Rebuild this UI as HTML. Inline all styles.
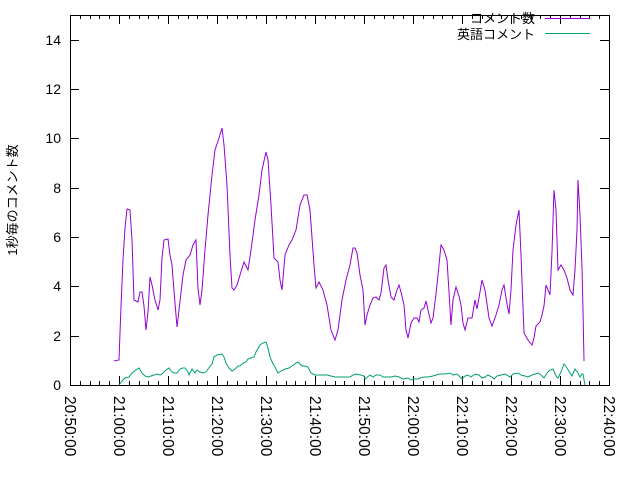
<!DOCTYPE html><html><head><meta charset="utf-8"><style>body{margin:0;background:#fff}svg{display:block}text{font-family:"Liberation Sans","Noto Sans CJK JP",sans-serif;fill:#000}</style></head><body>
<svg width="640" height="480" viewBox="0 0 640 480">
<g stroke="#000" stroke-width="1" fill="none">
<rect x="70.5" y="15.5" width="539" height="370"/>
<path d="M70 385.5h9M70 336.5h9M70 286.5h9M70 237.5h9M70 188.5h9M70 138.5h9M70 89.5h9M70 40.5h9M609 336.5h-9M609 286.5h-9M609 237.5h-9M609 188.5h-9M609 138.5h-9M609 89.5h-9M609 40.5h-9"/>
</g>
<g stroke="#000" stroke-width="1" id="ticks"></g>
<g font-size="14" text-anchor="end">
<text x="61" y="390">0</text><text x="61" y="341">2</text><text x="61" y="291">4</text><text x="61" y="242">6</text><text x="61" y="193">8</text><text x="61" y="143">10</text><text x="61" y="94">12</text><text x="61" y="45">14</text>
</g>
<g font-size="15.5" id="xl"></g>
<text font-size="13" transform="translate(17,200) rotate(-90)" text-anchor="middle">1秒毎のコメント数</text>
<text font-size="13" x="535" y="23" text-anchor="end">コメント数</text>
<text font-size="13" x="535" y="39" text-anchor="end">英語コメント</text>
<path d="M545 18.5h45" stroke="#9400d3"/><path d="M545 33.5h45" stroke="#009e73"/>
<polyline fill="none" stroke="#9400d3" stroke-width="1" points="114,361 119,360 121,306 123,260 125,228 127,209 130,210 132,240 134,300 138,302 140,292 142,292 144,306 146,330 148,312 150,277 152,285 155,300 158,310 160,300 162,258 164,240 168,239 170,255 172,265 174,291 177,327 179,310 183,275 186,260 190,255 193,245 196,240 198,288 200,305 202,290 205,250 208,215 212,175 215,150 219,138 222,128 224,145 227,185 230,255 232,288 234,290 237,285 240,275 244,262 246,266 248,270 251,250 255,220 259,195 262,170 266,152 268,160 271,205 274,258 278,262 280,280 282,290 285,255 289,245 292,240 296,230 300,205 304,195 307,195 310,210 314,265 316,288 319,282 323,290 327,305 331,330 335,340 338,330 342,300 346,280 350,265 353,248 355,248 357,253 360,275 363,290 365,325 367,315 370,305 373,298 376,297 379,300 381,293 384,268 386,265 388,280 391,297 394,300 397,290 399,285 401,292 404,305 406,330 408,338 411,323 414,318 417,318 419,322 421,310 424,308 426,301 428,310 431,323 433,318 436,294 438,275 441,245 444,250 447,260 449,292 451,325 453,300 456,287 459,296 461,305 463,323 465,330 468,318 472,318 475,300 477,309 480,292 482,280 485,290 489,318 492,326 496,315 499,305 502,290 504,285 507,304 509,314 511,290 513,250 516,225 519,210 521,255 524,333 528,340 532,345 534,338 536,326 540,322 542,315 544,306 546,285 548,290 550,295 552,252 554,190 556,210 558,270 561,265 564,270 567,278 570,290 573,295 575,270 577,230 578,180 580,215 582,268 583,310 584,361"/>
<polyline fill="none" stroke="#009e73" stroke-width="1" points="119,385 122,381 125,378 129,377 132,373 136,370 139,368 142,373 145,376 148,377 151,376 154,375 157,374 160,375 163,373 166,370 169,368 171,371 174,373 177,373 180,369 183,368 185,368 188,372 189,375 192,369 195,373 197,370 200,372 203,373 206,372 208,369 212,364 214,357 217,355 222,354 224,357 226,363 229,368 232,371 235,369 238,366 240,366 243,363 246,362 248,359 251,358 254,357 256,352 260,345 263,343 266,342 268,348 270,357 273,364 275,367 278,373 281,371 285,369 289,368 292,366 296,363 298,362 300,364 302,366 305,366 308,367 311,373 315,375 319,375 323,375 327,375 331,376 335,377 339,377 343,377 347,377 350,377 353,375 356,374 361,375 364,376 365,379 370,375 373,377 376,375 380,375 383,377 387,377 391,377 395,376 399,377 403,379 408,378 411,380 414,379 418,379 420,378 424,377 428,377 433,376 436,375 440,374 446,374 450,373 453,375 457,374 460,377 462,379 465,376 468,375 471,377 475,374 479,375 482,378 485,377 488,375 492,377 494,379 497,376 501,375 505,374 510,377 513,374 518,373 521,375 525,376 528,377 532,375 535,374 538,373 541,375 544,378 547,373 550,370 553,369 556,376 558,378 561,372 564,364 567,368 570,373 572,376 575,369 578,373 580,377 582,374 583,374 585,385"/>
<script>
var t=document.getElementById('ticks'),xl=document.getElementById('xl'),ns='http://www.w3.org/2000/svg';
var labs=['20:50:00','21:00:00','21:10:00','21:20:00','21:30:00','21:40:00','21:50:00','22:00:00','22:10:00','22:20:00','22:30:00','22:40:00'];
for(var i=0;i<=55;i++){var x=Math.round(70+i*9.8)+0.5,L=(i%5==0)?9:4;
var p=document.createElementNS(ns,'path');p.setAttribute('d','M'+x+' 385v-'+L+'M'+x+' 15v'+L);t.appendChild(p);}
for(var j=0;j<12;j++){var x=70+j*49;var e=document.createElementNS(ns,'text');e.setAttribute('transform','translate('+(x-5)+',396) rotate(90)');e.textContent=labs[j];xl.appendChild(e);}
</script>
</svg></body></html>
